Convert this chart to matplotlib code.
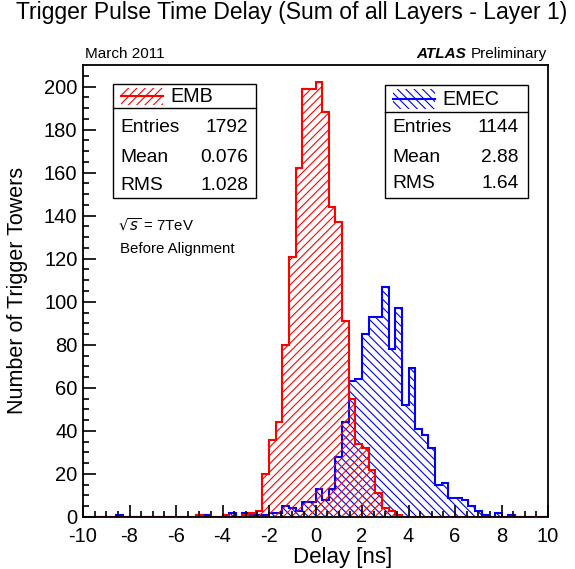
import numpy as np
import matplotlib
matplotlib.use('Agg')
import matplotlib.pyplot as plt
from matplotlib.patches import Rectangle
from matplotlib.lines import Line2D

plt.rcParams['font.family'] = ['Liberation Sans', 'DejaVu Sans']
plt.rcParams['hatch.linewidth'] = 0.8
plt.rcParams['axes.unicode_minus'] = False

# 70 bins from -10 to 10 ns
n_bins = 70
x_lo, x_hi = -10, 10

# bin contents, bin 0 starts at -10 ns
emb_counts = [0] * 17 + [1, 0, 0, 0, 1, 0, 0, 1, 2, 3,
                         20, 36, 44, 80, 121, 162, 199, 199, 202, 188,
                         144, 137, 91, 55, 34, 32, 22, 11, 4, 3, 1] + [0] * 22
emec_counts = [0] * 5 + [1] + [0] * 11 + [1, 1, 0, 0, 0, 2, 0, 2, 1, 1,
                                           1, 2, 2, 5, 4, 3, 7, 7, 13, 8,
                                           13, 28, 44, 63, 64, 85, 93, 93, 107, 78,
                                           97, 52, 69, 41, 38, 32, 15, 16, 9, 9,
                                           8, 5, 3, 1, 0, 2, 0, 1] + [0] * 5

emb_stats = [('Entries', '1792'), ('Mean', '0.076'), ('RMS', '1.028')]
emec_stats = [('Entries', '1144'), ('Mean', '2.88'), ('RMS', '1.64')]

W, H = 575, 569
fig = plt.figure(figsize=(W / 100, H / 100), dpi=100)
ax = fig.add_axes([83 / W, 52 / H, 465 / W, 452 / H])

edges = np.linspace(x_lo, x_hi, n_bins + 1)
ax.stairs(emec_counts, edges, fill=True, facecolor='none', edgecolor='blue',
          hatch='\\\\\\\\', linewidth=1.5)
ax.stairs(emb_counts, edges, fill=True, facecolor='none', edgecolor='red',
          hatch='////', linewidth=1.5)

ax.set_xlim(x_lo, x_hi)
ax.set_ylim(0, 210)
ax.set_xticks(np.arange(-10, 11, 2))
ax.set_xticks(np.arange(-10, 10.01, 0.5), minor=True)
ax.set_yticks(np.arange(0, 201, 20))
ax.set_yticks(np.arange(0, 210, 5), minor=True)
ax.tick_params(which='both', direction='in', top=False, right=False, width=1.2,
               labelsize=14.5)
ax.tick_params(which='major', length=9)
ax.tick_params(axis='x', which='major', pad=7.5)
ax.tick_params(axis='y', which='major', pad=4)
ax.tick_params(which='minor', length=4.5)
for s in ax.spines.values():
    s.set_linewidth(1.3)


def fx(x):
    return x / W


def fy(y):
    return 1 - y / H


fig.text(fx(292), fy(13), 'Trigger Pulse Time Delay (Sum of all Layers - Layer 1)',
         ha='center', va='center', fontsize=16.5)
fig.text(fx(18), fy(290), 'Number of Trigger Towers', rotation=90,
         ha='center', va='center', fontsize=15.5)
fig.text(fx(343), fy(558), 'Delay [ns]', ha='center', va='center', fontsize=16)
fig.text(fx(85), fy(54), 'March 2011', ha='left', va='center', fontsize=11)
fig.text(fx(416), fy(54), 'ATLAS', ha='left', va='center', fontsize=11,
         fontweight='bold', fontstyle='italic')
fig.text(fx(547), fy(54), 'Preliminary', ha='right', va='center', fontsize=11)
fig.text(fx(118), fy(225), r'$\sqrt{s}$ = 7TeV', ha='left', va='center', fontsize=10.8)
fig.text(fx(120), fy(249), 'Before Alignment', ha='left', va='center', fontsize=10.8)


def stat_box(x0, y0, x1, y1, yh, color, hatch, name, rows, row_y, val_x):
    fig.add_artist(Rectangle((fx(x0), fy(y1)), (x1 - x0) / W, (y1 - y0) / H,
                             transform=fig.transFigure, fill=False,
                             edgecolor='black', linewidth=1))
    fig.add_artist(Line2D([fx(x0), fx(x1)], [fy(yh), fy(yh)],
                          transform=fig.transFigure, color='black', linewidth=1))
    # legend sample: hatch plus a line through it
    fig.add_artist(Rectangle((fx(x0 + 8), fy(yh - 3)), 42 / W, (yh - y0 - 7) / H,
                             transform=fig.transFigure, facecolor='none',
                             edgecolor=color, linewidth=0, hatch=hatch))
    ym = (y0 + yh) / 2
    fig.add_artist(Line2D([fx(x0 + 8), fx(x0 + 50)], [fy(ym), fy(ym)],
                          transform=fig.transFigure, color=color, linewidth=1.5))
    fig.text(fx(x0 + 57), fy(ym + 1), name, ha='left', va='center', fontsize=14.2)
    for (lab, val), yy in zip(rows, row_y):
        fig.text(fx(x0 + 7), fy(yy), lab, ha='left', va='center', fontsize=13.8)
        fig.text(fx(val_x), fy(yy), val, ha='right', va='center', fontsize=13.8)


stat_box(113, 84, 256, 198, 108, 'red', '////', 'EMB', emb_stats,
         [128, 157, 185], 248)
stat_box(385, 85, 528, 198, 112, 'blue', '\\\\\\\\', 'EMEC', emec_stats,
         [128, 157, 184], 519)

fig.savefig('out.png', dpi=100, facecolor='white')
